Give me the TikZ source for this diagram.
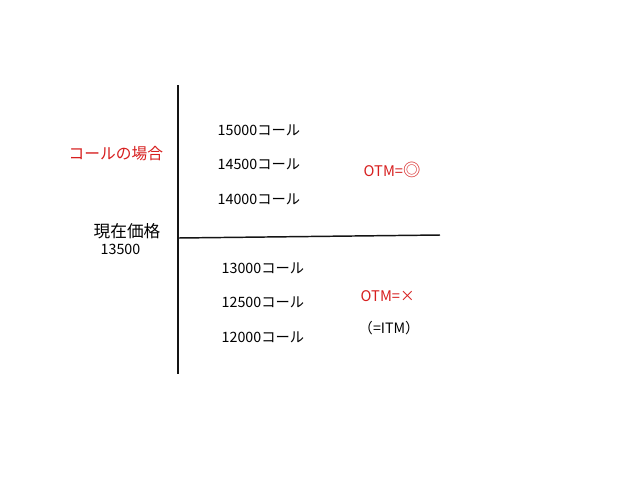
\documentclass[tikz,border=0pt]{standalone}
\usepackage{fontspec}
\setmainfont{Noto Sans CJK JP}
\definecolor{axis_black}{RGB}{20,20,20}
\definecolor{text_red}{RGB}{215,30,30}

\begin{document}
\begin{tikzpicture}[x=0.75pt,y=-0.75pt,line width=1.1pt]
    \tikzstyle{lbl}=[anchor=west, inner sep=0pt, font=\fontsize{10.7}{12}\selectfont, text=black]
    \tikzstyle{strike}=[style=lbl]
    \tikzstyle{redlbl}=[style=lbl, text=text_red, font=\fontsize{11}{12}\selectfont]

    \useasboundingbox[fill=white] (0,0) rectangle (640,487);

    % axes
    \coordinate (top) at (178,85);
    \coordinate (bottom) at (178,374);
    \coordinate (hl) at (178,238);
    \coordinate (hr) at (440,235);

    \node[redlbl, font=\fontsize{11.8}{13}\selectfont] (case) at (68,154) {コールの場合};
    \node[lbl, font=\fontsize{12.5}{14}\selectfont] (now) at (93,231) {現在価格};
    \node[lbl] (price) at (100,249) {13500};

    \node[strike] (s15000) at (217,130) {15000コール};
    \node[strike] (s14500) at (217,164) {14500コール};
    \node[strike] (s14000) at (217,199) {14000コール};
    \node[redlbl] (otmup) at (363,170) {OTM=\fontsize{13}{13}\selectfont◎};

    \node[strike] (s13000) at (221,268) {13000コール};
    \node[strike] (s12500) at (221,302) {12500コール};
    \node[strike] (s12000) at (221,337) {12000コール};
    \node[redlbl] (otmdn) at (360,296) {OTM=×};
    \node[lbl] (itm) at (358,328) {（=ITM）};

    \path[draw=axis_black]
     (top) edge (bottom)
     (hl) edge (hr)
     ;
\end{tikzpicture}
\end{document}
